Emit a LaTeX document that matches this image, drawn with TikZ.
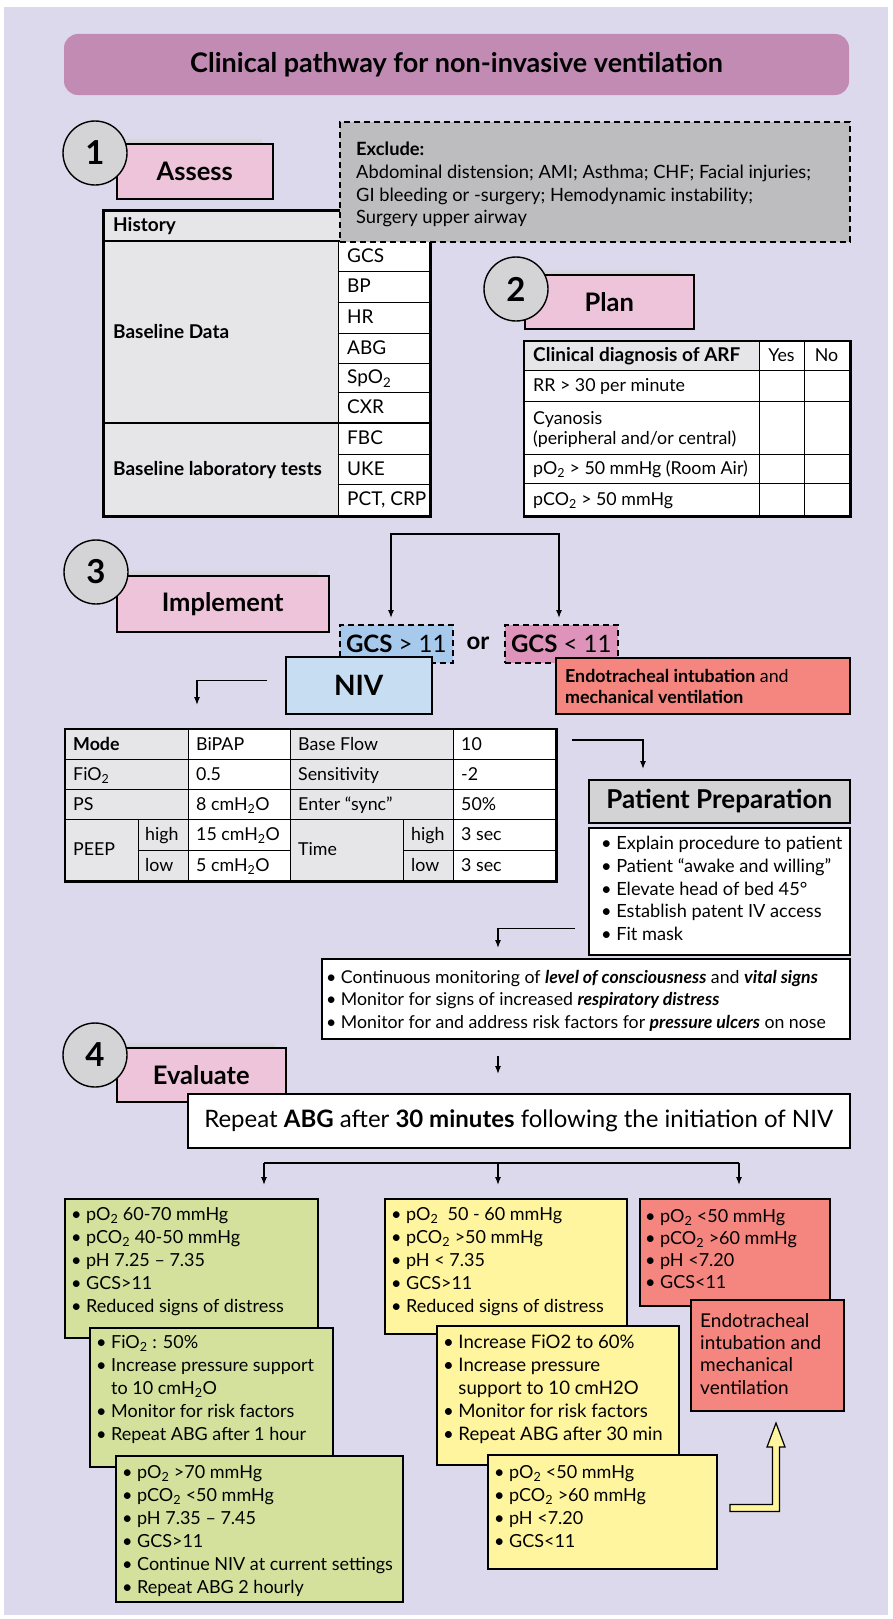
\documentclass[tikz,border=0pt]{standalone}
\usepackage{fontspec}
\setmainfont{Lato}
\usetikzlibrary{arrows.meta}
\definecolor{bgc}{HTML}{DCD9EC}
\definecolor{titlec}{HTML}{C18BB4}
\definecolor{pinkc}{HTML}{EDC4D9}
\definecolor{circc}{HTML}{D4D4D6}
\definecolor{exclc}{HTML}{BDBDBF}
\definecolor{tgrey}{HTML}{E6E6E8}
\definecolor{ppgrey}{HTML}{D3D3D5}
\definecolor{bluec}{HTML}{A7CAEC}
\definecolor{nivc}{HTML}{C7DDF2}
\definecolor{gpink}{HTML}{DE94BA}
\definecolor{redc}{HTML}{F4857F}
\definecolor{greenc}{HTML}{D4E19C}
\definecolor{yelc}{HTML}{FFF59E}
\newcommand\subtwo{\textsubscript{2}}
\newcommand\bodyf{\fontsize{18}{23}\selectfont}
\newcommand\tabf{\fontsize{17.8}{23}\selectfont}
\newcommand\histf{\fontsize{19}{23}\selectfont}
\newcommand\bl{\textbullet\hspace{4.5pt}}
\begin{document}
\begin{tikzpicture}[x=1pt,y=-1pt,
  box/.style={draw=black, line width=1.5pt, inner sep=0pt, anchor=north west},
  txt/.style={inner sep=0pt, anchor=north west, align=left, font=\bodyf},
  cell/.style={inner sep=0pt, anchor=west, text height=12.5pt, text depth=0pt, font=\tabf},
  bcell/.style={cell, font=\bfseries\tabf},
  hcell/.style={cell, font=\histf},
  hbcell/.style={cell, font=\bfseries\histf},
  numc/.style={circle, draw=black, line width=1.4pt, fill=circc, minimum size=64pt, inner sep=0pt, font=\bfseries\fontsize{33}{34}\selectfont},
  lbl/.style={box, fill=pinkc, font=\bfseries\fontsize{25.5}{28}\selectfont},
  dbox/.style={box, dash pattern=on 6pt off 4pt, line width=1.6pt},
  arr/.style={-{Latex[length=8pt,width=6pt]}, line width=1.2pt},
  ln/.style={line width=1.2pt},
  thn/.style={line width=0.8pt},
  tk/.style={line width=1.8pt},
  shade/.style={top color=bgc, bottom color=black!18, draw=none},
]
\useasboundingbox (0,0) rectangle (892,1619);
\fill[white] (0,0) rectangle (892,1619);
\fill[bgc] (4,7) rectangle (888,1615);

% ---------- title
\node[fill=titlec, rounded corners=14pt, minimum width=785pt, minimum height=61pt, inner sep=0pt,
      font=\bfseries\fontsize{27}{30}\selectfont] (title) at (456.5,64.5) {Clinical pathway for non-invasive ventilation};

% ---------- section 1
\fill[shade] (118,137) rectangle (262,143);
\node[lbl, minimum width=156pt, minimum height=55pt] (assess) at (116,143) {Assess};
\node[numc] (c1) at (95,153) {1};

\node[box, tk, fill=tgrey, minimum width=326pt, minimum height=305pt] (hist) at (103,210) {};
\fill[white] (338,241) rectangle (429,515);
\foreach \yy in {271,302,333,363,392,454,484} \draw[thn] (338,\yy) -- (429,\yy);
\draw[tk] (103,241) -- (429,241);
\draw[tk] (103,423) -- (429,423);
\draw[thn] (338,241) -- (338,515);
\draw[tk] (hist.north west) rectangle (hist.south east);
\node[hbcell] (hHist) at (113,225.5) {History};
\node[hbcell] (hBD) at (113,332) {Baseline Data};
\node[hbcell] (hBL) at (113,469) {Baseline laboratory tests};
\node[hcell] (hGCS) at (347,256) {GCS};
\node[hcell] (hBP) at (347,286.5) {BP};
\node[hcell] (hHR) at (347,317.5) {HR};
\node[hcell] (hABG) at (347,348) {ABG};
\node[hcell] (hSp) at (347,377.5) {SpO\subtwo};
\node[hcell] (hCXR) at (347,407.5) {CXR};
\node[hcell] (hFBC) at (347,438.5) {FBC};
\node[hcell] (hUKE) at (347,469) {UKE};
\node[hcell] (hPCT) at (347,499.5) {PCT, CRP};

\node[dbox, fill=exclc, line width=1.8pt, minimum width=510pt, minimum height=120pt] (excl) at (339,121) {};
\node[txt, font=\fontsize{18.3}{22.7}\selectfont] (exclt) at (356,142) {\textbf{Exclude:}\\Abdominal distension; AMI; Asthma; CHF; Facial injuries;\\GI bleeding or -surgery; Hemodynamic instability;\\Surgery upper airway};

% ---------- section 2
\fill[shade] (526,268) rectangle (680,274);
\node[lbl, minimum width=169pt, minimum height=54pt] (plan) at (524,274) {Plan};
\node[numc] (c2) at (516,289) {2};

\node[box, tk, minimum width=325pt, minimum height=174pt] (arf) at (524,341) {};
\fill[white] (524,341) rectangle (849,515);
\fill[tgrey] (524,341) rectangle (759,370);
\foreach \yy in {370,401,454,483} \draw[thn] (524,\yy) -- (849,\yy);
\draw[thn] (759,341) -- (759,515);
\draw[thn] (804,341) -- (804,515);
\draw[tk] (arf.north west) rectangle (arf.south east);
\node[bcell, font=\bfseries\fontsize{19}{23}\selectfont] (aH) at (533,355.5) {Clinical diagnosis of ARF};
\node[cell, anchor=center] (aY) at (781.5,355.5) {Yes};
\node[cell, anchor=center] (aN) at (826.5,355.5) {No};
\node[cell] (aRR) at (533,385.5) {RR > 30 per minute};
\node[txt, font=\fontsize{17.8}{20}\selectfont] (aCy) at (533,411) {Cyanosis\\(peripheral and/or central)};
\node[cell] (aPO) at (533,468.5) {pO\subtwo{} > 50 mmHg (Room Air)};
\node[cell] (aPC) at (533,499) {pCO\subtwo{} > 50 mmHg};

% ---------- section 3
\fill[shade] (118,569) rectangle (318,575);
\node[lbl, minimum width=212pt, minimum height=56pt] (impl) at (116,575) {Implement};
\node[numc] (c3) at (96,572) {3};

\node[dbox, fill=bluec, minimum width=113pt, minimum height=38pt, font=\fontsize{24}{26}\selectfont] (gcshi) at (339,624) {\textbf{GCS} > 11};
\node[font=\bfseries\fontsize{24}{26}\selectfont, inner sep=0pt] (or) at (478,643) {or};
\node[dbox, fill=gpink, minimum width=113pt, minimum height=38pt, font=\fontsize{24}{26}\selectfont] (gcslo) at (504,624) {\textbf{GCS} < 11};
\node[box, fill=nivc, minimum width=146pt, minimum height=57pt, font=\bfseries\fontsize{28}{30}\selectfont] (niv) at (285,656) {NIV};
\node[box, fill=redc, minimum width=294pt, minimum height=56pt] (endo) at (555,657) {};
\node[txt, font=\fontsize{17.8}{21}\selectfont] (endot) at (565,669) {\textbf{Endotracheal intubation} and\\\textbf{mechanical ventilation}};

\coordinate (fL) at (391,534);
\coordinate (fR) at (559,534);
\draw[ln, {Latex[length=8pt,width=6pt]}-{Latex[length=8pt,width=6pt]}, shorten <=6pt, shorten >=6pt]
  (fL |- gcshi.north) -- (fL) -- (fR) -- (fR |- gcslo.north);

% NIV settings table
\node[box, tk, minimum width=490pt, minimum height=151pt] (nivtab) at (65,729) {};
\fill[tgrey] (65,729) rectangle (188,880);
\fill[white] (188,729) rectangle (290,880);
\fill[tgrey] (290,729) rectangle (453,880);
\fill[white] (453,729) rectangle (555,880);
\foreach \yy in {759,789,819} \draw[thn] (65,\yy) -- (555,\yy);
\draw[thn] (138,850) -- (290,850);
\draw[thn] (403,850) -- (555,850);
\foreach \xx in {188,290,453} \draw[thn] (\xx,729) -- (\xx,880);
\draw[thn] (138,819) -- (138,880);
\draw[thn] (403,819) -- (403,880);
\draw[tk] (nivtab.north west) rectangle (nivtab.south east);
\node[bcell] (tMode) at (73,744) {Mode};
\node[cell] (tBi) at (196,744) {BiPAP};
\node[cell] (tBF) at (298,744) {Base Flow};
\node[cell] (tBFv) at (461,744) {10};
\node[cell] (tFi) at (73,774) {FiO\subtwo};
\node[cell] (tFiv) at (196,774) {0.5};
\node[cell] (tSe) at (298,774) {Sensitivity};
\node[cell] (tSev) at (461,774) {-2};
\node[cell] (tPS) at (73,804) {PS};
\node[cell] (tPSv) at (196,804) {8 cmH\subtwo O};
\node[cell] (tEn) at (298,804) {Enter ``sync''};
\node[cell] (tEnv) at (461,804) {50\%};
\node[cell] (tPE) at (73,849.5) {PEEP};
\node[cell] (tPh) at (145,834.5) {high};
\node[cell] (tPhv) at (196,834.5) {15 cmH\subtwo O};
\node[cell] (tPl) at (145,865) {low};
\node[cell] (tPlv) at (196,865) {5 cmH\subtwo O};
\node[cell] (tTi) at (298,849.5) {Time};
\node[cell] (tTh) at (411,834.5) {high};
\node[cell] (tThv) at (461,834.5) {3 sec};
\node[cell] (tTl) at (411,865) {low};
\node[cell] (tTlv) at (461,865) {3 sec};

\coordinate (na) at (197,729);
\draw[arr, shorten <=18pt, shorten >=24pt] ([yshift=4.5pt]niv.west) -| (na);

% patient preparation
\node[box, fill=ppgrey, minimum width=261pt, minimum height=43pt, font=\bfseries\fontsize{26}{28}\selectfont] (pph) at (588,779) {Patient Preparation};
\node[box, fill=white, minimum width=261pt, minimum height=127pt] (ppb) at (588,827) {};
\node[txt, font=\fontsize{18.2}{22.7}\selectfont] (ppt) at (601,836) {\bl Explain procedure to patient\\\bl Patient ``awake and willing''\\\bl Elevate head of bed 45°\\\bl Establish patent IV access\\\bl Fit mask};
\coordinate (pa) at (643,779);
\draw[arr, shorten <=15pt, shorten >=10pt] ([yshift=-11pt]nivtab.north east) -| (pa);

% monitoring
\node[box, fill=white, minimum width=528pt, minimum height=80pt] (mon) at (321,958) {};
\node[txt, font=\fontsize{17.7}{22.5}\selectfont] (mont) at (326,970) {\bl Continuous monitoring of \textbf{\textit{level of consciousness}} and \textbf{\textit{vital signs}}\\\bl Monitor for signs of increased \textbf{\textit{respiratory distress}}\\\bl Monitor for and address risk factors for \textbf{\textit{pressure ulcers}} on nose};
\coordinate (ma) at (498,958);
\draw[arr, shorten <=13pt, shorten >=10pt] ([yshift=-37pt]ppb.west) -| (ma);

% ---------- section 4
\fill[shade] (118,1041) rectangle (275,1047);
\node[lbl, minimum width=169pt, minimum height=54pt] (eval) at (116,1047) {Evaluate};
\node[numc] (c4) at (95,1055) {4};
\node[box, fill=white, minimum width=662pt, minimum height=54pt, font=\fontsize{24}{26}\selectfont] (abg) at (187,1093) {Repeat \textbf{ABG} after \textbf{30 minutes} following the initiation of NIV};
\draw[arr, shorten <=16pt, shorten >=19pt] (mon.south -| ma) -- (abg.north -| ma);

% outcome boxes
\node[box, fill=greenc, minimum width=253pt, minimum height=139pt] (g1) at (64,1198) {};
\node[txt] (g1t) at (71,1207) {\bl pO\subtwo{} 60-70 mmHg\\\bl pCO\subtwo{} 40-50 mmHg\\\bl pH 7.25 -- 7.35\\\bl GCS>11\\\bl Reduced signs of distress};
\node[box, fill=greenc, minimum width=243pt, minimum height=139pt] (g2) at (89,1327) {};
\node[txt] (g2t) at (96,1335) {\bl FiO\subtwo{} : 50\%\\\bl Increase pressure support\\\hphantom{\bl}to 10 cmH\subtwo O\\\bl Monitor for risk factors\\\bl Repeat ABG after 1 hour};
\node[box, fill=greenc, minimum width=287pt, minimum height=146pt] (g3) at (115,1455) {};
\node[txt] (g3t) at (122,1465) {\bl pO\subtwo{} >70 mmHg\\\bl pCO\subtwo{} <50 mmHg\\\bl pH 7.35 -- 7.45\\\bl GCS>11\\\bl Continue NIV at current settings\\\bl Repeat ABG 2 hourly};

\node[box, fill=yelc, minimum width=242pt, minimum height=135pt] (y1) at (384,1198) {};
\node[txt] (y1t) at (391,1207) {\bl pO\subtwo{}\ \ 50 - 60 mmHg\\\bl pCO\subtwo{} >50 mmHg\\\bl pH < 7.35\\\bl GCS>11\\\bl Reduced signs of distress};
\node[box, fill=yelc, minimum width=242pt, minimum height=139pt] (y2) at (436,1325) {};
\node[txt, font=\fontsize{18.6}{23}\selectfont] (y2t) at (443,1335) {\bl Increase FiO2 to 60\%\\\bl Increase pressure\\\hphantom{\bl}support to 10 cmH2O\\\bl Monitor for risk factors\\\bl Repeat ABG after 30 min};
\node[box, fill=yelc, minimum width=229pt, minimum height=114pt] (y3) at (487,1454) {};
\node[txt] (y3t) at (494,1465) {\bl pO\subtwo{} <50 mmHg\\\bl pCO\subtwo{} >60 mmHg\\\bl pH <7.20\\\bl GCS<11};

\node[box, fill=redc, minimum width=190pt, minimum height=107pt] (r1) at (639,1198) {};
\node[txt, font=\fontsize{18}{22}\selectfont] (r1t) at (645,1209) {\bl pO\subtwo{} <50 mmHg\\\bl pCO\subtwo{} >60 mmHg\\\bl pH <7.20\\\bl GCS<11};
\node[box, fill=redc, minimum width=153pt, minimum height=111pt] (r2) at (690,1299) {};
\node[txt, font=\fontsize{19}{22.3}\selectfont] (r2t) at (700,1313) {Endotracheal\\intubation and\\mechanical\\ventilation};

\coordinate (e1) at (264,1163);
\coordinate (e2) at (498,1163);
\coordinate (e3) at (739,1163);
\draw[ln] (e1) -- (e3);
\draw[arr, shorten >=13pt] (e1) -- (e1 |- g1.north);
\draw[arr, shorten >=13pt] (e2) -- (e2 |- y1.north);
\draw[arr, shorten >=13pt] (e3) -- (e3 |- r1.north);

% yellow escalation arrow
\filldraw[fill=yelc, draw=black, line width=1.2pt]
  (730,1504.5) -- (772.5,1504.5) -- (772.5,1447) -- (767,1447) -- (776,1423) -- (785,1447)
  -- (779.5,1447) -- (779.5,1511.5) -- (730,1511.5) -- cycle;
\end{tikzpicture}
\end{document}
